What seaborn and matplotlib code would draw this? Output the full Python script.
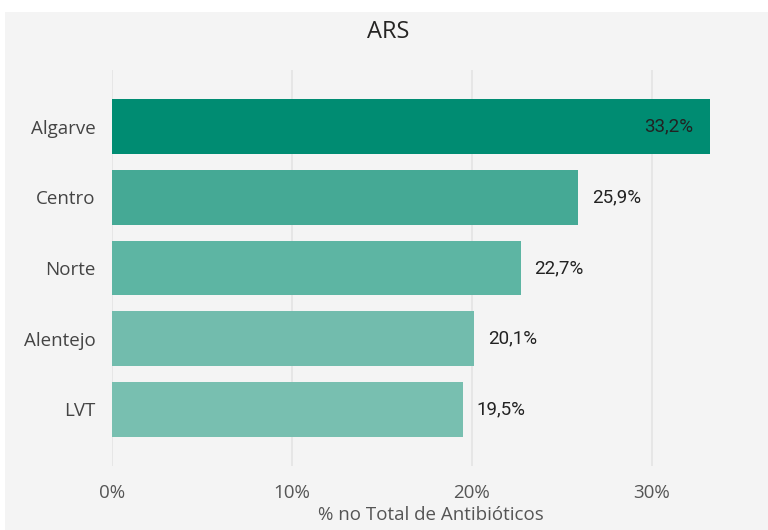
import matplotlib
matplotlib.use("Agg")
import matplotlib.pyplot as plt
import seaborn as sns
import pandas as pd
from matplotlib.patches import Rectangle

regions = ["Algarve", "Centro", "Norte", "Alentejo", "LVT"]
values = [33.2, 25.9, 22.7, 20.1, 19.5]
labels = ["33,2%", "25,9%", "22,7%", "20,1%", "19,5%"]
colors = ["#008C72", "#45A995", "#5DB5A3", "#72BCAD", "#78BFB0"]
xticks = [0, 10, 20, 30]
xticklabels = ["0%", "10%", "20%", "30%"]

sns.set_theme(style="white")
plt.rcParams["font.family"] = ["Open Sans", "DejaVu Sans"]

df = pd.DataFrame({"region": regions, "value": values})

fig = plt.figure(figsize=(7.68, 5.30), dpi=100)
fig.patch.set_facecolor("white")
fig.patches.append(Rectangle((5 / 768, 0), 1, 1 - 12 / 530, transform=fig.transFigure,
                             facecolor="#f4f4f4", edgecolor="none", zorder=-10))

ax = fig.add_axes([112 / 768, 1 - 466 / 530, (750 - 112) / 768, (466 - 70) / 530])
ax.set_facecolor("none")
ax.patch.set_visible(False)

sns.barplot(data=df, x="value", y="region", hue="region", palette=colors,
            legend=False, width=0.77, ax=ax, saturation=1, zorder=3,
            edgecolor="none", linewidth=0)

ax.set_xlim(0, (750 - 112) / 18)
ax.set_ylim(4.8, -0.8)
ax.set_xticks(xticks)
ax.set_xticklabels(xticklabels)
ax.set_axisbelow(True)
ax.grid(axis="x", color="#e4e4e4", linewidth=1.2)
for s in ax.spines.values():
    s.set_visible(False)
ax.tick_params(axis="x", length=0, pad=13, labelsize=13.5, labelcolor="#555555")
ax.tick_params(axis="y", length=0, pad=12, labelsize=13.5, labelcolor="#444444")
ax.set_ylabel("")
ax.set_xlabel("% no Total de Antibióticos", fontsize=13.5, color="#555555", labelpad=3)

for i, (v, lab) in enumerate(zip(values, labels)):
    if i == 0:
        ax.annotate(lab, (v, i), xytext=(-12, 0), textcoords="offset points",
                    ha="right", va="center", fontsize=13.5, color="#222222",
                    family=["Roboto", "DejaVu Sans"], zorder=5)
    else:
        ax.annotate(lab, (v, i), xytext=(10, 0), textcoords="offset points",
                    ha="left", va="center", fontsize=13.5, color="#222222",
                    family=["Roboto", "DejaVu Sans"], zorder=5)

fig.text(388 / 768, 1 - 32 / 530, "ARS", ha="center", va="center",
         fontsize=17, color="#252423")

fig.savefig("out.png", dpi=100, facecolor=fig.get_facecolor())
